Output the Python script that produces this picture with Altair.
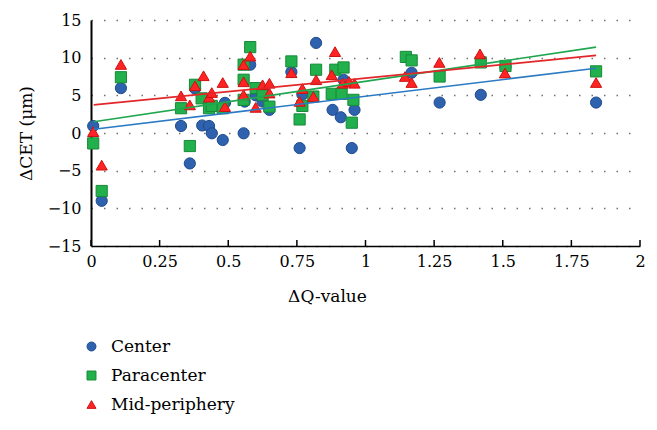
import altair as alt
import pandas as pd

# ---- data ----
series_names = ["Center", "Paracenter", "Mid-periphery"]

center_x = [0.008, 0.039, 0.109, 0.328, 0.36, 0.379, 0.405, 0.43, 0.44, 0.48, 0.488,
            0.556, 0.56, 0.58, 0.60, 0.625, 0.65, 0.73, 0.76, 0.77, 0.82, 0.88, 0.91,
            0.92, 0.95, 0.96, 1.168, 1.27, 1.42, 1.51, 1.84]
center_y = [0.93, -9.0, 5.96, 0.93, -4.04, 5.9, 1.0, 0.93, -0.04, -0.93, 4.0,
            -0.04, 4.17, 9.07, 5.0, 4.17, 3.07, 8.1, -2.0, 5.1, 11.96, 3.07, 2.09,
            7.07, -2.0, 3.07, 8.0, 4.04, 5.07, 8.8, 4.04]

para_x = [0.008, 0.039, 0.109, 0.328, 0.36, 0.379, 0.403, 0.43, 0.44, 0.48,
          0.556, 0.556, 0.556, 0.58, 0.60, 0.625, 0.65, 0.73, 0.76, 0.77, 0.81,
          0.82, 0.877, 0.89, 0.913, 0.92, 0.95, 0.956, 1.147, 1.168, 1.27, 1.42,
          1.51, 1.84]
para_y = [-1.38, -7.7, 7.4, 3.29, -1.73, 6.4, 4.6, 3.29, 3.6, 3.29,
          9.07, 7.07, 4.4, 11.4, 5.96, 5.07, 3.5, 9.5, 1.8, 3.6, 4.84,
          8.4, 5.2, 8.4, 5.2, 8.7, 1.37, 4.4, 10.1, 9.64, 7.5, 9.37,
          8.9, 8.18]

mid_x = [0.008, 0.039, 0.109, 0.328, 0.36, 0.379, 0.41, 0.43, 0.44, 0.48, 0.488,
         0.556, 0.556, 0.556, 0.58, 0.60, 0.625, 0.65, 0.65, 0.73, 0.76, 0.77,
         0.81, 0.82, 0.877, 0.889, 0.917, 0.94, 0.96, 1.144, 1.168, 1.269,
         1.417, 1.508, 1.84]
mid_y = [0.18, -4.27, 9.1, 4.93, 3.73, 6.27, 7.6, 4.76, 5.37, 6.7, 3.5,
         9.07, 6.8, 5.07, 10.2, 3.4, 6.4, 6.6, 5.3, 8.0, 4.2, 5.9,
         4.84, 7.07, 7.73, 10.8, 6.6, 6.84, 6.6, 7.5, 6.7, 9.37,
         10.5, 7.96, 6.7]

# fitted trend lines (end points)
line_x = [0.01, 1.84]
center_fit = [0.49, 8.6]
para_fit = [1.5, 11.4]
mid_fit = [3.73, 10.3]

x_ticks = [0, 0.25, 0.5, 0.75, 1, 1.25, 1.5, 1.75, 2]
y_ticks = [-15, -10, -5, 0, 5, 10, 15]

# ---- styling ----
fill_colors = ["#2E62AE", "#21B04B", "#FF2323"]
stroke_colors = ["#1E4B8E", "#168A38", "#CC1111"]
line_colors = ["#2A7AC4", "#1FA64E", "#E2262A"]
shapes = ["circle", "square", "triangle-up"]
FONT = "DejaVu Serif"

rows = []
order = 0
for name, xs, ys in [("Center", center_x, center_y),
                     ("Paracenter", para_x, para_y),
                     ("Mid-periphery", mid_x, mid_y)]:
    for xv, yv in zip(xs, ys):
        rows.append({"q": xv, "cet": yv, "series": name, "ord": order})
        order += 1
df = pd.DataFrame(rows)

xscale = alt.Scale(domain=[0, 2], nice=False, zero=False)
yscale = alt.Scale(domain=[-15, 15], nice=False, zero=False)

x_axis = alt.Axis(
    values=x_ticks, labelExpr="datum.value + ''", ticks=False, grid=False,
    domainColor="black", domainWidth=1.5, labelFont=FONT, labelFontSize=16,
    labelColor="black", labelPadding=7, labelFlush=False, labelOverlap=False,
    title="ΔQ-value", titleFont=FONT, titleFontSize=17, titleFontWeight="normal",
    titleColor="black", titleX=236, titleY=42, titleBaseline="top",
    titleAlign="center",
)
y_axis = alt.Axis(
    values=y_ticks, labelExpr="replace(datum.value + '', '-', '\u2212')",
    ticks=False, grid=True, gridDash=[1.5, 11],
    gridColor="#707070", gridWidth=1.4, domainColor="black", domainWidth=2,
    labelFont=FONT, labelFontSize=16, labelColor="black", labelPadding=10,
    labelFlush=False, labelOverlap=False,
    title="ΔCET (μm)", titleFont=FONT, titleFontSize=17, titleFontWeight="normal",
    titleColor="black", titleX=-65, titleY=113, titleAngle=270,
    titleAlign="center", titleBaseline="middle",
)

legend = alt.Legend(
    title=None, orient="none", legendX=-8, legendY=318, direction="vertical",
    labelFont=FONT, labelFontSize=17, labelColor="black", symbolSize=80,
    rowPadding=11, labelOffset=11, symbolStrokeWidth=1,
)

points = alt.Chart(df).mark_point(filled=True, size=125, opacity=1, strokeWidth=1).encode(
    x=alt.X("q:Q", scale=xscale, axis=x_axis),
    y=alt.Y("cet:Q", scale=yscale, axis=y_axis),
    color=alt.Color("series:N", scale=alt.Scale(domain=series_names, range=fill_colors),
                    legend=legend),
    shape=alt.Shape("series:N", scale=alt.Scale(domain=series_names, range=shapes),
                    legend=legend),
    stroke=alt.Stroke("series:N", scale=alt.Scale(domain=series_names, range=stroke_colors),
                      legend=None),
    order=alt.Order("ord:Q"),
)

line_layers = []
for fit, col in zip([center_fit, para_fit, mid_fit], line_colors):
    ldf = pd.DataFrame({"q": line_x, "cet": fit})
    line_layers.append(
        alt.Chart(ldf).mark_line(color=col, strokeWidth=1.6).encode(
            x=alt.X("q:Q", scale=xscale, axis=x_axis),
            y=alt.Y("cet:Q", scale=yscale, axis=y_axis),
        )
    )

tick_df = pd.DataFrame({"q": x_ticks})
ticks = alt.Chart(tick_df).mark_rule(color="black", strokeWidth=1.5).encode(
    x=alt.X("q:Q", scale=xscale, axis=x_axis),
    y=alt.value(220),
    y2=alt.value(226),
)

chart = alt.layer(points, *line_layers, ticks).properties(
    width=549, height=226,
    autosize=alt.AutoSizeParams(type="none"),
    padding={"left": 83, "top": 12, "right": 9, "bottom": 170},
    background="white",
).configure_view(stroke=None)

chart.save("out.html", embed_options={"renderer": "svg", "actions": False})
